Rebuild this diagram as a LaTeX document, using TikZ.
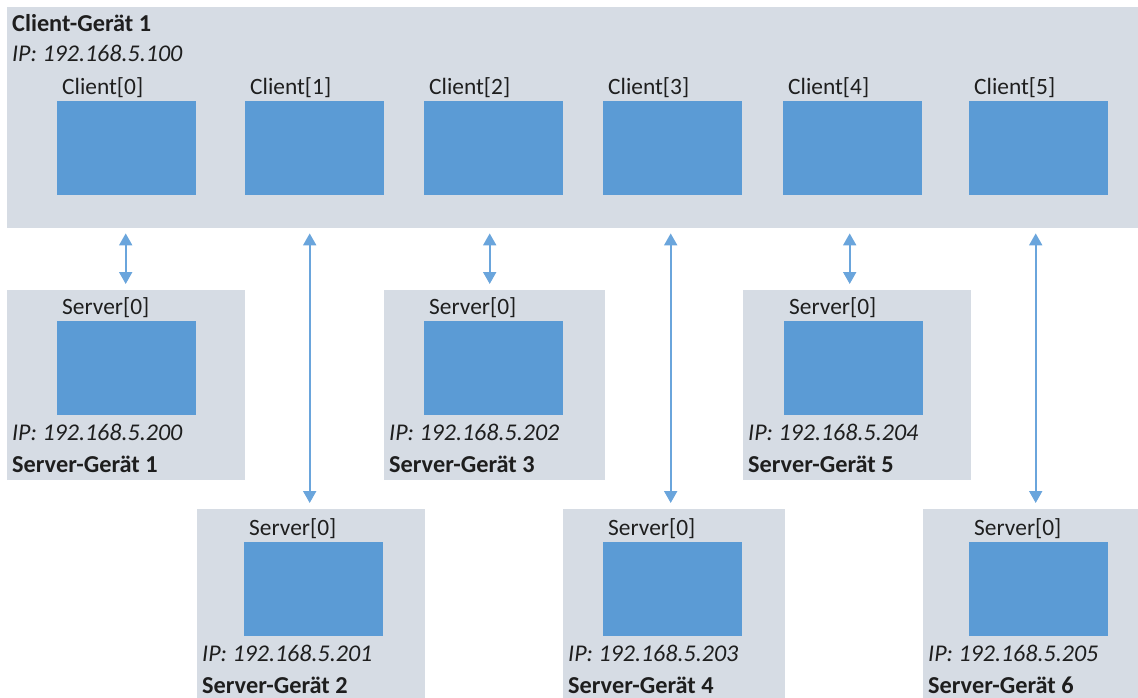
\documentclass[tikz,border=0pt]{standalone}
\usepackage{fontspec}
\setmainfont{Carlito}
\usetikzlibrary{arrows.meta}
\definecolor{devgrey}{HTML}{D6DCE4}
\definecolor{unitblue}{HTML}{5B9BD5}
\definecolor{linkblue}{HTML}{6AA5DC}
\definecolor{txt}{HTML}{1E1E1E}
\begin{document}
\begin{tikzpicture}[x=1pt,y=-1pt,
  dev/.style={rectangle,fill=devgrey,draw=none,anchor=north west,inner sep=0},
  unit/.style={rectangle,fill=unitblue,draw=none,anchor=north west,inner sep=0,
    minimum width=139pt,minimum height=94pt},
  lbl/.style={anchor=base west,inner sep=0,text=txt,font=\fontsize{23.4}{27}\selectfont},
  iptxt/.style={lbl,font=\fontsize{24}{28}\selectfont\itshape},
  devname/.style={lbl,font=\fontsize{24.3}{28}\selectfont\bfseries},
  link/.style={draw=linkblue,line width=2pt,
    arrows={Triangle[width=13pt,length=12pt]-Triangle[width=13pt,length=12pt]}}]
\useasboundingbox (0,0) rectangle (1138,698);

% client device with its six clients
\node[dev,minimum width=1131pt,minimum height=221pt] (cdev) at (7,7) {};
\node[devname] (cdevname) at (12,32) {Client-Gerät 1};
\node[iptxt] (cdevip) at (12,62) {IP: 192.168.5.100};
\node[unit] (cl0) at (57,101) {};
\node[unit] (cl1) at (245,101) {};
\node[unit] (cl2) at (424,101) {};
\node[unit] (cl3) at (603,101) {};
\node[unit] (cl4) at (783,101) {};
\node[unit] (cl5) at (969,101) {};
\foreach \i in {0,...,5}
  \node[lbl] (cl\i lbl) at ([xshift=5pt,yshift=6pt]cl\i.north west) {Client[\i]};

% server devices, upper row
\node[dev,minimum width=238pt,minimum height=190pt] (s1) at (7,290) {};
\node[dev,minimum width=221pt,minimum height=190pt] (s3) at (384,290) {};
\node[dev,minimum width=228pt,minimum height=190pt] (s5) at (743,290) {};
% server devices, lower row
\node[dev,minimum width=228pt,minimum height=190pt] (s2) at (197,509) {};
\node[dev,minimum width=222pt,minimum height=190pt] (s4) at (563,509) {};
\node[dev,minimum width=216pt,minimum height=190pt] (s6) at (923,509) {};

\node[unit] (sv1) at (57,321) {};
\node[unit] (sv3) at (424,321) {};
\node[unit] (sv5) at (784,321) {};
\node[unit] (sv2) at (244,542) {};
\node[unit] (sv4) at (603,542) {};
\node[unit] (sv6) at (969,542) {};

\foreach \i/\ip in {1/200,2/201,3/202,4/203,5/204,6/205}{
  \node[lbl] (sv\i lbl) at ([xshift=5pt,yshift=7pt]sv\i.north west) {Server[0]};
  \node[iptxt] (s\i ip) at ([xshift=5pt,yshift=-25pt]s\i.west |- sv\i.south) {IP: 192.168.5.\ip};
  \node[devname] (s\i name) at ([xshift=5pt,yshift=-57pt]s\i.west |- sv\i.south) {Server-Gerät \i};
}

% client-server connections
\draw[link,shorten <=5pt,shorten >=6pt] ([xshift=-1pt]cl0.south |- cdev.south) -- ([xshift=-1pt]cl0.south |- s1.north);
\draw[link,shorten <=5pt,shorten >=6pt] ([xshift=-5pt]cl1.south |- cdev.south) -- ([xshift=-5pt]cl1.south |- s2.north);
\draw[link,shorten <=5pt,shorten >=6pt] ([xshift=-4pt]cl2.south |- cdev.south) -- ([xshift=-4pt]cl2.south |- s3.north);
\draw[link,shorten <=5pt,shorten >=6pt] ([xshift=-2pt]cl3.south |- cdev.south) -- ([xshift=-2pt]cl3.south |- s4.north);
\draw[link,shorten <=5pt,shorten >=6pt] ([xshift=-3pt]cl4.south |- cdev.south) -- ([xshift=-3pt]cl4.south |- s5.north);
\draw[link,shorten <=5pt,shorten >=6pt] ([xshift=-3pt]cl5.south |- cdev.south) -- ([xshift=-3pt]cl5.south |- s6.north);
\end{tikzpicture}
\end{document}
